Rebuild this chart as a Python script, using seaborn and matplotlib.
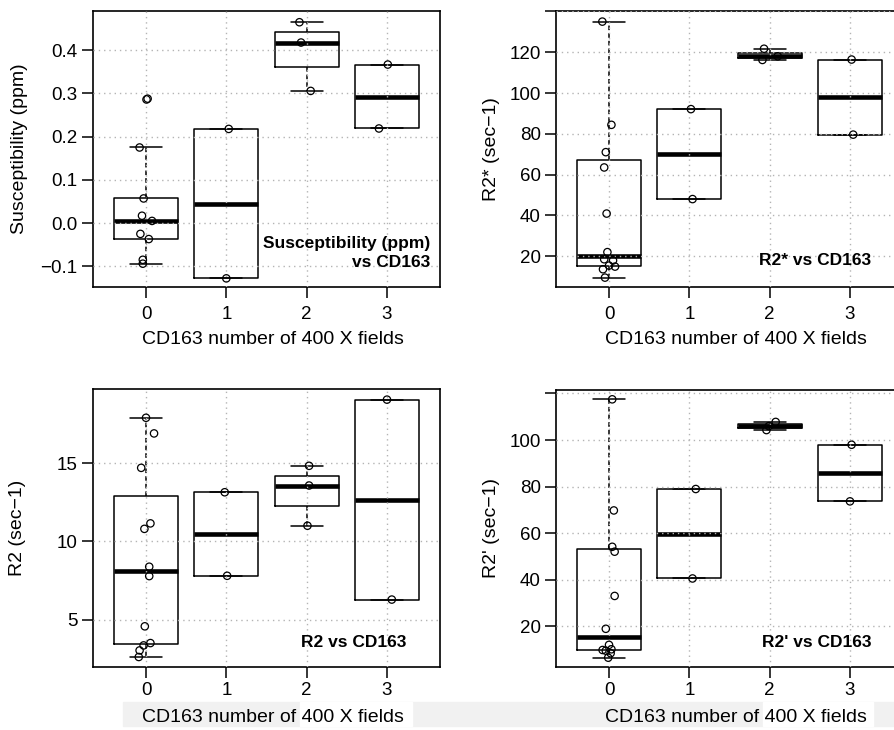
#!/usr/bin/env python3
import numpy as np
import matplotlib
matplotlib.use("Agg")
import matplotlib.pyplot as plt
from matplotlib.patches import Rectangle
import seaborn as sns

# === Data ===
groups = [0, 1, 2, 3]
xlabel = "CD163 number of 400 X fields"

# Susceptibility (ppm)
sus_group = [0] * 9 + [1] * 2 + [2] * 3 + [3] * 2
sus_value = [0.288, 0.175, 0.057, 0.017, 0.005, -0.025, -0.037, -0.085, -0.094,
             0.218, -0.128,
             0.465, 0.418, 0.306,
             0.367, 0.219]
sus_jitter = [0.02, -0.08, -0.03, -0.05, 0.075, -0.07, 0.035, -0.04, -0.04,
              0.03, 0.0,
              -0.09, -0.07, 0.05,
              0.01, -0.10]

# R2* (sec-1)
r2s_group = [0] * 12 + [1] * 2 + [2] * 3 + [3] * 2
r2s_value = [135.0, 84.4, 71.0, 63.5, 40.9, 22.0, 18.5, 17.9, 15.4, 14.9, 13.6, 9.5,
             92.1, 48.0,
             121.7, 118.0, 116.2,
             116.4, 79.6]
r2s_jitter = [-0.083, 0.03, -0.04, -0.06, -0.03, -0.02, -0.06, 0.05, 0.0, 0.075, -0.075, -0.05,
              0.02, 0.04,
              -0.07, 0.10, -0.09,
              0.02, 0.04]

# R2 (sec-1)
r2_group = [0] * 12 + [1] * 2 + [2] * 3 + [3] * 2
r2_value = [17.9, 16.9, 14.7, 11.15, 10.8, 8.38, 7.78, 4.57, 3.5, 3.35, 3.03, 2.61,
            13.14, 7.8,
            14.83, 13.57, 11.0,
            19.06, 6.28]
r2_jitter = [0.0, 0.10, -0.06, 0.055, -0.02, 0.04, 0.04, -0.015, 0.055, -0.03, -0.08, -0.09,
             -0.02, 0.01,
             0.03, 0.03, 0.01,
             0.0, 0.06]

# R2' (sec-1)
r2p_group = [0] * 12 + [1] * 2 + [2] * 3 + [3] * 2
r2p_value = [117.5, 69.8, 54.2, 52.1, 33.1, 19.0, 12.1, 10.2, 9.9, 9.6, 8.5, 6.6,
             79.0, 40.6,
             107.8, 106.0, 104.3,
             98.0, 73.7]
r2p_jitter = [0.04, 0.06, 0.04, 0.07, 0.07, -0.04, 0.0, 0.03, -0.08, -0.04, 0.02, -0.01,
              0.08, 0.04,
              0.075, -0.01, -0.04,
              0.02, 0.0]


# === R-style box statistics (Tukey hinges, 1.5 IQR whiskers) ===
def tukey_stats(vals):
    x = np.sort(np.asarray(vals, float))
    n = len(x)
    n4 = np.floor((n + 3) / 2) / 2
    d = np.array([1, n4, (n + 1) / 2, n + 1 - n4, n]) - 1
    five = 0.5 * (x[np.floor(d).astype(int)] + x[np.ceil(d).astype(int)])
    iqr = five[3] - five[1]
    out = (x < five[1] - 1.5 * iqr) | (x > five[3] + 1.5 * iqr)
    inside = x[~out]
    return dict(med=five[2], q1=five[1], q3=five[3],
                whislo=inside.min(), whishi=inside.max(), fliers=x[out])


def draw_panel(ax, grp, val, jit, ylabel, note, note_xy, ylim, yticks, yticklabels):
    grp = np.asarray(grp)
    val = np.asarray(val)
    stats = [tukey_stats(val[grp == g]) for g in groups]
    ax.bxp(stats, positions=groups, widths=0.8, capwidths=0.4, manage_ticks=False,
           boxprops=dict(color="black", lw=1.1),
           whiskerprops=dict(color="black", lw=1.1, linestyle=(0, (3, 2))),
           capprops=dict(color="black", lw=1.1),
           medianprops=dict(color="black", lw=3.3, solid_capstyle="butt"),
           flierprops=dict(marker="o", markerfacecolor="none", markeredgecolor="black",
                           markersize=5.3, markeredgewidth=0.9))
    sns.scatterplot(x=grp + np.asarray(jit), y=val, ax=ax, s=28,
                    facecolor="none", edgecolor="black", linewidth=0.9, zorder=4)
    ax.set_xlim(-0.66, 3.66)
    ax.set_ylim(*ylim)
    ax.set_xticks(groups, labels=[str(g) for g in groups])
    ax.set_yticks(yticks, labels=yticklabels)
    ax.set_axisbelow(False)
    ax.grid(True, color="#b4b4b4", linestyle=(0, (1, 2.8)), linewidth=1.0)
    for sp in ax.spines.values():
        sp.set_visible(True)
        sp.set_color("black")
        sp.set_linewidth(1.2)
    ax.tick_params(direction="out", length=8, width=1.1, color="black",
                   labelcolor="black", labelsize=13.5, pad=3)
    ax.set_ylabel(ylabel, fontsize=14, color="black")
    ax.set_xlabel(xlabel, fontsize=14, color="black")
    ax.text(note_xy[0], note_xy[1], note, transform=ax.transAxes, ha="right",
            va="bottom", fontsize=12.5, fontweight="bold", linespacing=1.3,
            color="black")


# === Plot ===
sns.set_theme(style="ticks", rc={"text.color": "black", "axes.labelcolor": "black",
                                 "xtick.color": "black", "ytick.color": "black"})
plt.rcParams["font.family"] = ["Liberation Sans", "DejaVu Sans"]
plt.rcParams["axes.unicode_minus"] = True

fig = plt.figure(figsize=(8.95, 7.3), dpi=100)
W, H = 895, 730


def box(l, t, r, b):
    return [l / W, 1 - b / H, (r - l) / W, (b - t) / H]


ax1 = fig.add_axes(box(93, 11, 440, 287))
ax2 = fig.add_axes(box(556, 11, 903, 287))
ax3 = fig.add_axes(box(93, 389, 440, 667))
ax4 = fig.add_axes(box(556, 390, 903, 667))

draw_panel(ax1, sus_group, sus_value, sus_jitter, "Susceptibility (ppm)",
           "Susceptibility (ppm)\nvs CD163", (0.971, 0.062), (-0.148, 0.491),
           [-0.1, 0.0, 0.1, 0.2, 0.3, 0.4],
           ["\u22120.1", "0.0", "0.1", "0.2", "0.3", "0.4"])
draw_panel(ax2, r2s_group, r2s_value, r2s_jitter, "R2* (sec\u22121)",
           "R2* vs CD163", (0.908, 0.069), (4.9, 140.2),
           [20, 40, 60, 80, 100, 120, 140],
           ["20", "40", "60", "80", "100", "120", ""])
draw_panel(ax3, r2_group, r2_value, r2_jitter, "R2 (sec\u22121)",
           "R2 vs CD163", (0.902, 0.061), (1.97, 19.74),
           [5, 10, 15], ["5", "10", "15"])
draw_panel(ax4, r2p_group, r2p_value, r2p_jitter, "R2' (sec\u22121)",
           "R2' vs CD163", (0.908, 0.061), (2.6, 121.5),
           [20, 40, 60, 80, 100, 120],
           ["20", "40", "60", "80", "100", ""])

# label placement
ax1.yaxis.set_label_coords(-0.187, 0.5)
ax3.yaxis.set_label_coords(-0.193, 0.5)
ax2.yaxis.set_label_coords(-0.161, 0.5)
ax4.yaxis.set_label_coords(-0.161, 0.5)
ax1.xaxis.set_label_coords(0.519, -0.159)
ax2.xaxis.set_label_coords(0.519, -0.159)
ax3.xaxis.set_label_coords(0.519, -0.151)
ax4.xaxis.set_label_coords(0.519, -0.151)
ax1.tick_params(axis="x", pad=6)
ax2.tick_params(axis="x", pad=6)

# faint strip behind the bottom axis titles
fig.add_artist(Rectangle((123 / W, 1 - 726 / H), (W - 123) / W, 24 / H,
                         transform=fig.transFigure, color="#f1f1f1", zorder=-1))
for l, r in [(300, 412), (763, 873)]:
    fig.add_artist(Rectangle((l / W, 1 - 726 / H), (r - l) / W, 24 / H,
                             transform=fig.transFigure, color="white", zorder=-1))

fig.savefig("out.png", dpi=100)
